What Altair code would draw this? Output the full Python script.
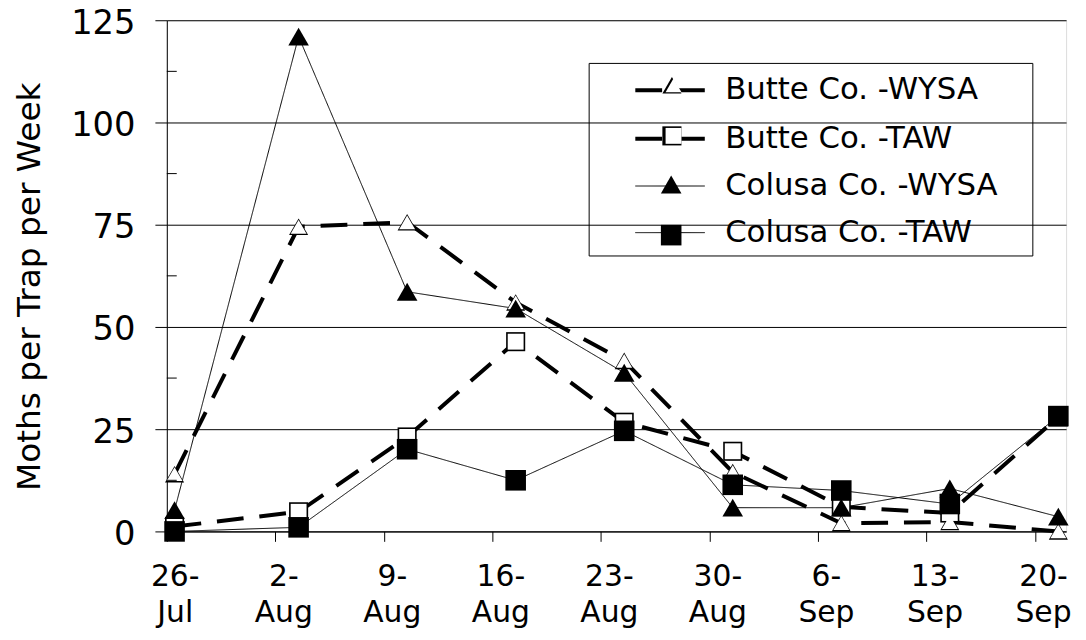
import json
import altair as alt
import pandas as pd

# ---- data ----
sample_dates = ["26-Jul", "3-Aug", "10-Aug", "17-Aug", "24-Aug", "31-Aug", "7-Sep", "14-Sep", "21-Sep"]
tick_labels = ["26-Jul", "2-Aug", "9-Aug", "16-Aug", "23-Aug", "30-Aug", "6-Sep", "13-Sep", "20-Sep"]
axis_start = "26-Jul"
axis_end = "22-Sep"
series_names = ["Butte Co. -WYSA", "Butte Co. -TAW", "Colusa Co. -WYSA", "Colusa Co. -TAW"]
butte_wysa = [14.0, 74.5, 75.6, 56.0, 41.7, 14.5, 2.0, 2.3, 0.0]
butte_taw = [1.2, 4.8, 23.1, 46.4, 26.7, 19.6, 6.0, 4.5, 28.0]
colusa_wysa = [5.2, 121.0, 58.6, 54.5, 38.8, 5.8, 5.8, 10.5, 3.6]
colusa_taw = [0.0, 1.0, 20.1, 12.5, 24.6, 11.4, 10.0, 6.7, 28.2]
y_major = [0, 25, 50, 75, 100, 125]
y_minor = [12.5, 37.5, 62.5, 87.5, 112.5]

FONT = "DejaVu Sans"
open_marker_series = series_names[:2]    # Butte: open (white) markers
filled_marker_series = series_names[2:]  # Colusa: filled markers


def day_of(label):
    t = pd.to_datetime(label + "-2001", format="%d-%b-%Y")
    return (t - pd.to_datetime(axis_start + "-2001", format="%d-%b-%Y")).days


tick_days = [day_of(t) for t in tick_labels]
end_day = day_of(axis_end)

rows = []
for name, vals in zip(series_names, [butte_wysa, butte_taw, colusa_wysa, colusa_taw]):
    for d, v in zip(sample_dates, vals):
        # date axis: each point sits at the middle of its day
        rows.append({"day": day_of(d) + 0.5, "value": v, "series": name,
                     "marker": name + " marker", "marker_in": name + " inner"})
df = pd.DataFrame(rows)
minor_df = pd.DataFrame({"value": y_minor})
open_keys = [n + " marker" for n in open_marker_series]
open_inner_keys = [n + " inner" for n in open_marker_series]
filled_keys = [n + " marker" for n in filled_marker_series]

label_pairs = [[t.split("-")[0] + "-", t.split("-")[1]] for t in tick_labels]
label_expr = f"{json.dumps(label_pairs)}[indexof({json.dumps(tick_days)}, datum.value)]"

x_scale = alt.Scale(domain=[0, end_day], nice=False, zero=False)
y_scale = alt.Scale(domain=[0, 125], nice=False)

x_axis = alt.Axis(
    values=tick_days, labelExpr=label_expr, title=None, grid=False,
    tickSize=10, tickColor="black", domainColor="black", tickWidth=1,
    labelFont=FONT, labelFontSize=30, labelColor="black", labelLineHeight=37,
    labelBaseline="top", labelPadding=20, labelOffset=8, labelAlign="center",
    labelOverlap=False, labelFlush=False,
)
y_axis = alt.Axis(
    values=y_major, title="Moths per Trap per Week", grid=True, gridColor="black",
    gridWidth=1, tickSize=12, tickColor="black", domainColor="black",
    labelFont=FONT, labelFontSize=34, labelColor="black", labelPadding=20, labelOffset=3,
    titleFont=FONT, titleFontSize=33, titleFontWeight="normal", titleColor="black",
    titleX=-138, titleY=268, titleAngle=-90, titleAlign="center", titleBaseline="middle",
)

line_legend = alt.Legend(
    orient="none", legendX=425, legendY=43, title=" ", titleOrient="right", titlePadding=27,
    symbolType="M-2,0H2", symbolSize=1225, symbolStrokeColor="black",
    labelFont=FONT, labelFontSize=31, labelColor="black", labelOffset=36, labelLimit=0,
    padding=8, rowPadding=14, symbolOffset=54.5, strokeColor="black",
)


def marker_legend(y, offset, size):
    return alt.Legend(
        orient="none", legendX=425, legendY=y, title=None,
        symbolSize=size, symbolStrokeWidth=0, symbolOffset=offset,
        labelFont=FONT, labelFontSize=31, labelColor="transparent", labelOffset=18, labelLimit=0,
        padding=8, rowPadding=19,
    )


OPEN_OUT, OPEN_IN, FILLED = 370, 256, 430

base = alt.Chart(df)
xe = alt.X("day:Q", scale=x_scale, axis=x_axis)
ye = alt.Y("value:Q", scale=y_scale, axis=y_axis)

lines = base.mark_line(color="black", strokeCap="butt").encode(
    x=xe, y=ye,
    strokeDash=alt.StrokeDash(
        "series:N",
        scale=alt.Scale(domain=series_names, range=[[27, 16], [27, 16], [1, 0], [1, 0]]),
        legend=line_legend,
    ),
    strokeWidth=alt.StrokeWidth(
        "series:N",
        scale=alt.Scale(type="ordinal", domain=series_names, range=[4, 4, 1, 1]),
        legend=line_legend,
    ),
)

open_base = base.transform_filter(alt.FieldOneOfPredicate(field="series", oneOf=open_marker_series))

open_outer = open_base.mark_point(filled=True, color="black", opacity=1, size=OPEN_OUT).encode(
    x=xe, y=ye,
    shape=alt.Shape(
        "marker:N",
        scale=alt.Scale(domain=open_keys, range=["triangle-up", "square"]),
        legend=marker_legend(42, 70 - (OPEN_OUT ** 0.5) / 2, OPEN_OUT),
    ),
)
open_inner = open_base.mark_point(filled=True, color="white", opacity=1, size=OPEN_IN).encode(
    x=xe, y=ye,
    shape=alt.Shape(
        "marker_in:N",
        scale=alt.Scale(domain=open_inner_keys, range=["triangle-up", "square"]),
        legend=marker_legend(42, 70 - (OPEN_IN ** 0.5) / 2, OPEN_IN),
    ),
)

filled_points = base.transform_filter(
    alt.FieldOneOfPredicate(field="series", oneOf=filled_marker_series)
).mark_point(filled=True, color="black", opacity=1, size=FILLED).encode(
    x=xe, y=ye,
    shape=alt.Shape(
        "marker:N",
        scale=alt.Scale(domain=filled_keys, range=["triangle-up", "square"]),
        legend=marker_legend(142, 70 - (FILLED ** 0.5) / 2, FILLED),
    ),
)

minor_ticks = alt.Chart(minor_df).mark_rule(color="black", strokeWidth=1).encode(
    y=alt.Y("value:Q", scale=y_scale, axis=y_axis),
    x=alt.value(0),
    x2=alt.value(10),
)

chart = alt.layer(lines, open_outer, open_inner, filled_points, minor_ticks).resolve_scale(
    shape="independent"
).properties(
    width=906, height=515,
    autosize=alt.AutoSizeParams(type="none"),
    padding={"left": 160, "top": 10, "right": 12, "bottom": 99},
).configure_view(stroke="#808080", strokeWidth=1).configure(font=FONT, background="white")

chart.save("out.html", embed_options={"renderer": "svg", "actions": False})
